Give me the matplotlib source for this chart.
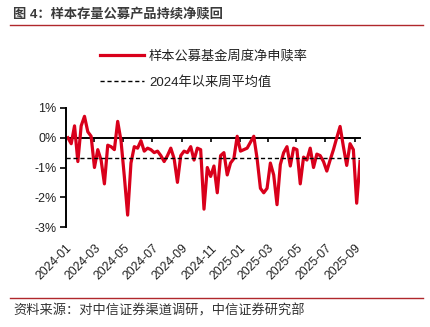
import numpy as np
import pandas as pd
import matplotlib
matplotlib.use('Agg')
import matplotlib.pyplot as plt
import matplotlib.dates as mdates
from matplotlib.lines import Line2D
from matplotlib.ticker import FuncFormatter

plt.rcParams['font.family'] = ['Liberation Sans', 'Noto Sans CJK SC']

# weekly net subscription/redemption rate of sample mutual funds (%)
weeks = pd.date_range('2024-01-05', periods=89, freq='W-FRI')
flow_rate = [0.0, -0.2, 0.4, -0.8, 0.4, 0.72, 0.2, 0.05, -1.0, -0.4,
             -0.75, -1.55, -0.25, -0.3, -0.4, 0.55, -0.1, -1.3, -2.6, -0.85,
             -0.3, -0.35, -0.1, -0.45, -0.35, -0.4, -0.5, -0.45, -0.6, -0.8,
             -0.6, -0.35, -0.7, -1.5, -0.6, -0.45, -0.5, -0.3, -0.75, -0.35,
             -0.4, -2.4, -1.0, -1.3, -0.95, -1.85, -0.6, -0.5, -1.25, -0.85,
             -0.7, 0.05, -0.45, -0.4, -0.35, -0.15, 0.05, -0.7, -1.7, -1.85,
             -1.7, -0.85, -1.25, -2.25, -0.9, -0.5, -0.3, -0.95, -0.35, -0.4,
             -1.55, -0.65, -0.75, -0.35, -1.0, -0.55, -0.6, -0.8, -1.12, -0.75,
             -0.4, 0.0, 0.38, -0.3, -0.93, -0.2, -0.4, -2.2, -0.8]
avg_since_2024 = -0.67

tick_months = pd.date_range('2024-01-01', '2025-09-01', freq='2MS')
y_ticks = [-3, -2, -1, 0, 1]

title = '图 4：样本存量公募产品持续净赎回'
source = '资料来源：对中信证券渠道调研，中信证券研究部'
series_label = '样本公募基金周度净申赎率'
avg_label = '2024年以来周平均值'

red = '#d9001b'
rule_red = '#b0282c'
text_col = '#222222'

W, H = 431, 327
fig = plt.figure(figsize=(W / 100, H / 100), dpi=100)
ax = fig.add_axes([66 / W, 1 - 227 / H, (360 - 66) / W, (227 - 108) / H])

x = mdates.date2num(weeks)
line1, = ax.plot(x, flow_rate, color=red, lw=2.3, solid_joinstyle='round')
line2 = ax.axhline(avg_since_2024, color='black', lw=1.0, ls=(0, (3, 2)))

ax.set_ylim(-3, 1)
ax.set_xlim(mdates.date2num(pd.Timestamp('2024-01-01')), x[-1])
ax.set_yticks(y_ticks)
ax.yaxis.set_major_formatter(FuncFormatter(lambda v, p: '%d%%' % v))

tick_nums = mdates.date2num(tick_months)
ax.set_xticks(tick_nums)
ax.xaxis.set_major_formatter(mdates.DateFormatter('%Y-%m'))
ax.tick_params(axis='x', length=0, pad=11, labelsize=8.8, labelcolor=text_col)
for lab in ax.get_xticklabels():
    lab.set_rotation(45)
    lab.set_ha('right')
    lab.set_rotation_mode('anchor')
ax.tick_params(axis='y', length=4, width=1.2, direction='out', labelsize=9,
               labelcolor=text_col, pad=3)

for s in ['top', 'right', 'bottom']:
    ax.spines[s].set_visible(False)
ax.spines['left'].set_linewidth(1.4)

# zero line acting as x axis
sec = ax.secondary_xaxis(0.75)
sec.set_xticks(tick_nums)
sec.tick_params(direction='in', length=3, width=1.2, labeltop=False, labelbottom=False)
sec.spines['top'].set_linewidth(1.4)

fig.legend([line1, line2], [series_label, avg_label], loc='upper left',
           bbox_to_anchor=(100 / W, 1 - 50 / H), frameon=False, fontsize=9.5,
           handlelength=3.3, handletextpad=0.4, labelspacing=1.0,
           borderpad=0, borderaxespad=0, labelcolor=text_col)

fig.text(13 / W, 1 - 15 / H, title, fontsize=9.5, color='#3a3a3a', va='center',
         fontweight='bold')
fig.add_artist(Line2D([10 / W, 423 / W], [1 - 25 / H, 1 - 25 / H], color=rule_red, lw=1.0))
fig.add_artist(Line2D([10 / W, 423 / W], [1 - 298 / H, 1 - 298 / H], color=rule_red, lw=1.0))
fig.text(13 / W, 1 - 311 / H, source, fontsize=9.5, color='#333333', va='center')

fig.savefig('out.png', dpi=100)
